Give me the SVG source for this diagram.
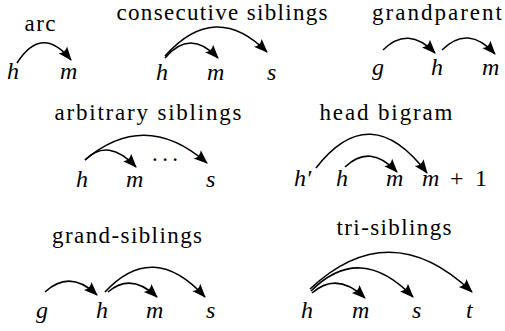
<svg xmlns="http://www.w3.org/2000/svg" width="505" height="331" viewBox="0 0 505 331" font-family="Liberation Serif, DejaVu Serif, serif">
<style>
.t{font-size:23px;fill:#000;text-anchor:middle}
.v{font-size:24px;font-style:italic;fill:#000}
.r{font-style:normal}
.a{fill:none;stroke:#000;stroke-width:1.6;marker-end:url(#ah)}
</style>
<defs>
<marker id="ah" markerUnits="userSpaceOnUse" markerWidth="16" markerHeight="12" viewBox="-14 -6 16 12" refX="0" refY="0" orient="auto">
<path d="M1,0 L-13,-5.5 Q-9,0 -13,5.5 Z" fill="#000"/>
</marker>
</defs>
<rect width="505" height="331" fill="#fff"/>

<g id="arc">
<text class="t" x="40" y="31" textLength="31">arc</text>
<text class="v" x="7" y="79">h</text>
<text class="v" x="60" y="79">m</text>
</g>
<g id="consecutive-siblings">
<text class="t" x="222" y="20" textLength="211">consecutive siblings</text>
<text class="v" x="156" y="80">h</text>
<text class="v" x="207" y="80">m</text>
<text class="v" x="267" y="80">s</text>
</g>
<g id="grandparent">
<text class="t" x="437" y="20" textLength="130">grandparent</text>
<text class="v" x="372" y="75">g</text>
<text class="v" x="431" y="75">h</text>
<text class="v" x="482" y="75">m</text>
</g>
<g id="arbitrary-siblings">
<text class="t" x="148" y="120" textLength="187">arbitrary siblings</text>
<text class="v" x="76" y="187">h</text>
<text class="v" x="126" y="187">m</text>
<text class="t" x="165" y="161" textLength="26">...</text>
<text class="v" x="206" y="187">s</text>
</g>
<g id="head-bigram">
<text class="t" x="386" y="120" textLength="133">head bigram</text>
<text class="v" x="294" y="186">h′</text>
<text class="v" x="336" y="186">h</text>
<text class="v" x="386" y="186">m</text>
<text class="v" x="422" y="186">m<tspan class="r" x="450">+</tspan><tspan class="r" x="475">1</tspan></text>
</g>
<g id="grand-siblings">
<text class="t" x="127" y="243" textLength="150">grand-siblings</text>
<text class="v" x="36" y="318">g</text>
<text class="v" x="96" y="318">h</text>
<text class="v" x="146" y="318">m</text>
<text class="v" x="206" y="318">s</text>
</g>
<g id="tri-siblings">
<text class="t" x="394" y="235" textLength="115">tri-siblings</text>
<text class="v" x="301" y="318">h</text>
<text class="v" x="352" y="318">m</text>
<text class="v" x="412" y="318">s</text>
<text class="v" x="466" y="318">t</text>
</g>

<g id="connectors">
<path class="a" d="M17,63 Q42,24 71,60"/>
<path class="a" d="M165,58 Q190,28 218,58"/>
<path class="a" d="M165,56 Q215,0 267,52"/>
<path class="a" d="M383,50 Q408,25 435,53"/>
<path class="a" d="M442,50 Q468,24 495,54"/>
<path class="a" d="M85,160 Q108,137 136,167"/>
<path class="a" d="M85,160 Q145,109 207,163"/>
<path class="a" d="M316,168 Q370,98 427,173"/>
<path class="a" d="M345,167 Q370,143 397,172"/>
<path class="a" d="M45,292 Q70,269 97,295"/>
<path class="a" d="M108,292 Q131,272 157,297"/>
<path class="a" d="M105,292 Q153,240 205,297"/>
<path class="a" d="M312,293 Q337,271 365,298"/>
<path class="a" d="M311,291 Q360,242 413,297"/>
<path class="a" d="M310,289 Q390,214 472,292"/>
</g>
</svg>
